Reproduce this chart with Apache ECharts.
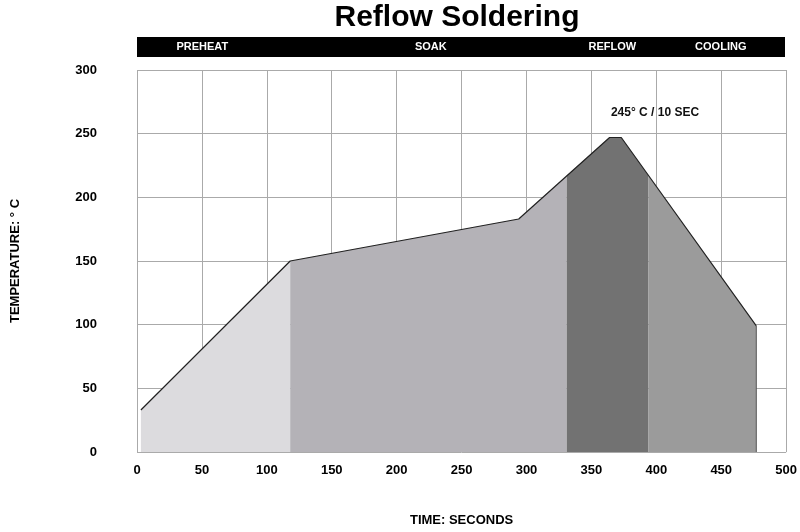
<!DOCTYPE html>
<html>
<head>
<meta charset="utf-8">
<script src="https://cdn.jsdelivr.net/npm/echarts@6/dist/echarts.min.js"></script>
<style>body{margin:0;background:#fff}#c{width:800px;height:532px}</style>
</head>
<body>
<div id="c"></div>
<script>
// profile: [seconds, deg C]
var profile = [[3, 33], [118, 150], [294, 183], [364, 247], [373, 247], [477, 99]];
var preheat = [[3, 33], [118, 150]];
var soak = [[118, 150], [294, 183], [331, 217]];
var reflow = [[331, 217], [364, 247], [373, 247], [394, 217]];
var cooling = [[394, 217], [477, 99]];
var phaseNames = ['PREHEAT', 'SOAK', 'REFLOW', 'COOLING'];
var phaseCenters = [50, 225, 364, 447];
var phaseColors = ['#dcdbde', '#b4b2b7', '#727272', '#9b9b9b'];

var myChart = echarts.init(document.getElementById('c'));

function areaSeries(data, color) {
    return {
        type: 'line', data: data, symbol: 'none', silent: true,
        lineStyle: {width: 0}, areaStyle: {color: color, opacity: 1}
    };
}

var grid = {left: 137, right: 10, top: 70, bottom: 77};
var plotW = 800 - grid.left - grid.right;

var graphics = [
    {type: 'rect', shape: {x: 137, y: 37, width: 648, height: 20}, style: {fill: '#000'}},
    {type: 'text', x: 655, y: 113, style: {text: '245° C / 10 SEC', fill: '#111', font: 'bold 12px Arial', textAlign: 'center', textVerticalAlign: 'middle'}}
];
for (var i = 0; i < phaseNames.length; i++) {
    graphics.push({
        type: 'text', x: grid.left + phaseCenters[i] / 500 * plotW, y: 47,
        style: {text: phaseNames[i], fill: '#fff', font: 'bold 11px Arial', textAlign: 'center', textVerticalAlign: 'middle'}
    });
}

var option = {
    animation: false,
    title: {text: 'Reflow Soldering', left: 452, top: -2, textAlign: 'center',
        textStyle: {fontSize: 30, fontWeight: 'bold', color: '#000', fontFamily: 'Arial'}},
    grid: grid,
    xAxis: {
        type: 'value', min: 0, max: 500, interval: 50,
        name: 'TIME: SECONDS', nameLocation: 'middle', nameGap: 62,
        nameTextStyle: {fontWeight: 'bold', fontSize: 13, color: '#000', fontFamily: 'Arial'},
        axisLine: {show: false}, axisTick: {show: false},
        axisLabel: {fontWeight: 'bold', fontSize: 13, color: '#000', margin: 12, fontFamily: 'Arial'},
        splitLine: {lineStyle: {color: '#aaa'}}
    },
    yAxis: {
        type: 'value', min: 0, max: 300, interval: 50,
        name: 'TEMPERATURE: ° C', nameLocation: 'middle', nameGap: 115, nameRotate: 90,
        nameTextStyle: {fontWeight: 'bold', fontSize: 13, color: '#000', fontFamily: 'Arial'},
        axisLine: {show: false}, axisTick: {show: false},
        axisLabel: {fontWeight: 'bold', fontSize: 13, color: '#000', margin: 40, fontFamily: 'Arial'},
        splitLine: {lineStyle: {color: '#aaa'}}
    },
    graphic: graphics,
    series: [
        areaSeries(preheat, phaseColors[0]),
        areaSeries(soak, phaseColors[1]),
        areaSeries(reflow, phaseColors[2]),
        areaSeries(cooling, phaseColors[3]),
        {type: 'line', data: profile, symbol: 'none', lineStyle: {color: '#222', width: 1.2}, z: 5},
        {type: 'line', data: [[477, 99], [477, 0]], symbol: 'none', lineStyle: {color: '#555', width: 1}, z: 5}
    ]
};
myChart.setOption(option);
</script>
</body>
</html>
